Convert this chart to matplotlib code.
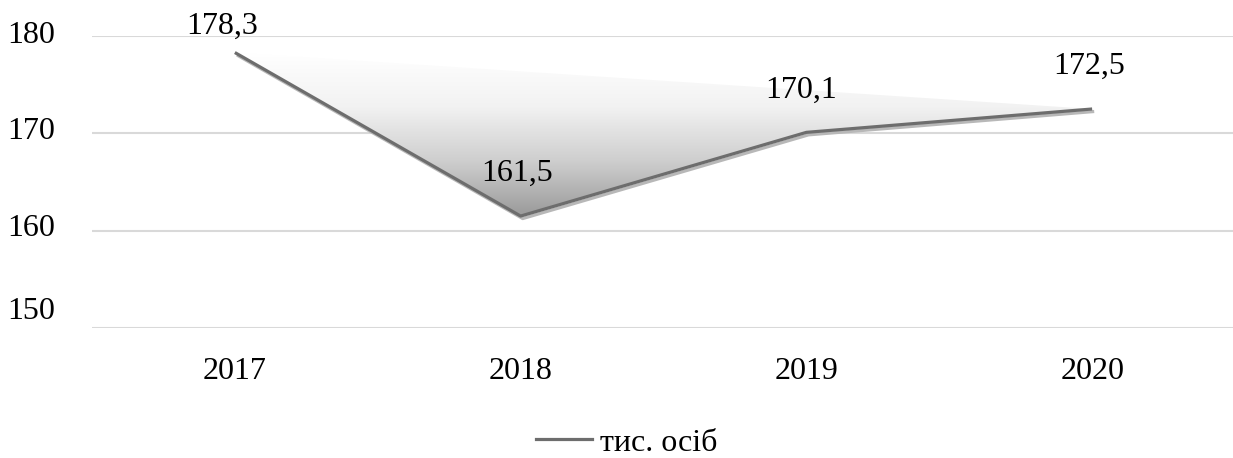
import numpy as np
import matplotlib
matplotlib.use("Agg")
import matplotlib.pyplot as plt
import matplotlib.patheffects as pe
from matplotlib.patches import Polygon
from matplotlib.lines import Line2D
from matplotlib.colors import LinearSegmentedColormap
from matplotlib.transforms import ScaledTranslation

years = ["2017", "2018", "2019", "2020"]
values = [178.3, 161.5, 170.1, 172.5]
value_labels = ["178,3", "161,5", "170,1", "172,5"]
y_ticks = [150, 160, 170, 180]
series_name = "тис. осіб"

plt.rcParams["font.family"] = ["Liberation Serif", "DejaVu Serif"]
fs = 23
plt.rcParams["font.size"] = fs

fig = plt.figure(figsize=(12.33, 4.58), dpi=100)
ax = fig.add_axes([92 / 1233, 130 / 458, 1143 / 1233, 292 / 458])

x = np.arange(len(years))
line_col = "#6d6d6d"

# gradient fill between the line and the chord first->last point
poly = Polygon(np.column_stack([x, values]), closed=True, facecolor="none",
               edgecolor="none")
ax.add_patch(poly)
cmap = LinearSegmentedColormap.from_list("g", ["#9a9a9a", "#cecece", "#f2f2f2", "#ffffff"])
grad = np.linspace(0, 1, 256).reshape(-1, 1)
im = ax.imshow(grad, cmap=cmap, origin="lower", aspect="auto",
               extent=[x[0], x[-1], min(values), max(values)], zorder=2)
im.set_clip_path(poly)

ax.plot(x, values, color=line_col, lw=2.3, zorder=3, solid_capstyle="butt",
        path_effects=[pe.SimpleLineShadow(offset=(1.5, -1.8), shadow_color="#b8b8b8", alpha=1),
                      pe.Normal()])

# data labels (first one is pushed down to stay inside the chart)
label_dx = [-13, -4, -5, -3]
label_dy = [19, 35, 35, 35]
for i, v in enumerate(values):
    ax.annotate(value_labels[i], (x[i], v), xytext=(label_dx[i], label_dy[i]),
                textcoords="offset pixels", ha="center", va="baseline",
                fontsize=fs, color="black", annotation_clip=False, zorder=4)

ax.set_xlim(-0.5, 3.5)
ax.set_ylim(150, 180)
ax.set_yticks(y_ticks)
ax.set_xticks(x)
ax.set_xticklabels(years)
ax.yaxis.grid(True, color="#d9d9d9", lw=1.5)
ax.set_axisbelow(True)
for s in ax.spines.values():
    s.set_visible(False)
ax.tick_params(axis="both", length=0)
ax.tick_params(axis="y", pad=26.5)
ax.tick_params(axis="x", pad=21)

# y labels sit a little above their gridlines
y_shift = [20, 6, 5, 4]
for lab, dy in zip(ax.get_yticklabels(), y_shift):
    lab.set_transform(lab.get_transform() + ScaledTranslation(0, dy / 100, fig.dpi_scale_trans))

handle = Line2D([], [], color=line_col, lw=2.3)
fig.legend([handle], [series_name], loc="center", bbox_to_anchor=(0.508, 0.033),
           frameon=False, handlelength=1.75, handletextpad=0.25, fontsize=fs)

fig.savefig("out.png", dpi=100)
